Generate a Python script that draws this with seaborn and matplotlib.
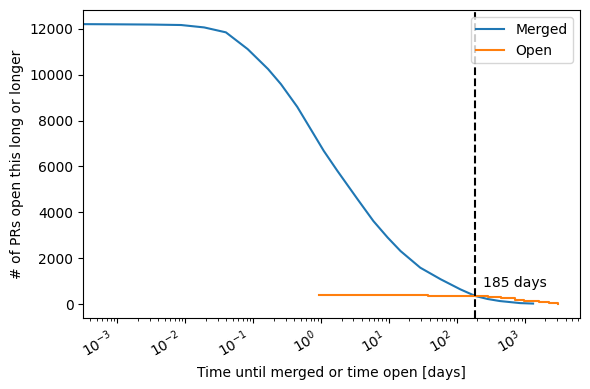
import numpy as np
import pandas as pd
import matplotlib
matplotlib.use("Agg")
import matplotlib.pyplot as plt
import seaborn as sns

# Merged PRs: log10(days) and number of PRs open this long or longer
merged_log_days = [-3.6, -3.0, -2.5, -2.06, -1.72, -1.40, -1.08, -0.78, -0.59, -0.35,
                   -0.11, 0.04, 0.24, 0.54, 0.77, 0.98, 1.17, 1.46, 1.76, 2.05,
                   2.27, 2.45, 2.63, 2.93, 3.12]
merged_count = [12210, 12200, 12190, 12170, 12065, 11850, 11120, 10250, 9590, 8600,
                7420, 6680, 5810, 4560, 3620, 2900, 2310, 1585, 1080, 640,
                350, 220, 130, 40, 20]

# Open PRs: log10(days) and count (step curve)
open_log_days = [-0.03, 1.58, 2.30, 2.45, 2.65, 2.85, 2.98, 3.2, 3.35, 3.49]
open_count = [390, 360, 340, 300, 275, 175, 130, 87, 60, 15]

cutoff_days = 185
decade_ticks = [1e-3, 1e-2, 1e-1, 1e0, 1e1, 1e2, 1e3]

df_m = pd.DataFrame({"days": 10 ** np.array(merged_log_days), "count": merged_count})
df_o = pd.DataFrame({"days": 10 ** np.array(open_log_days), "count": open_count})

fig, ax = plt.subplots(figsize=(5.9, 3.89), dpi=100)
sns.lineplot(data=df_m, x="days", y="count", ax=ax, label="Merged", color="#1f77b4",
             estimator=None, sort=True)
sns.lineplot(data=df_o, x="days", y="count", ax=ax, label="Open", color="#ff7f0e",
             estimator=None, sort=True, drawstyle="steps-post")
ax.set_xscale("log")
ax.set_xticks(decade_ticks)
ax.set_xlim(10 ** -3.5, 10 ** 3.81)
ax.set_ylim(-610, 12820)
ax.axvline(cutoff_days, color="black", linestyle="--")
ax.text(cutoff_days * 1.3, 900, "185 days", va="center", ha="left")
ax.set_xlabel("Time until merged or time open [days]")
ax.set_ylabel("# of PRs open this long or longer")
ax.legend(loc="upper right")
for lbl in ax.get_xticklabels():
    lbl.set_rotation(30)
    lbl.set_ha("right")
fig.subplots_adjust(left=0.141, right=0.983, top=0.974, bottom=0.1825)
fig.savefig("out.png", dpi=100)
